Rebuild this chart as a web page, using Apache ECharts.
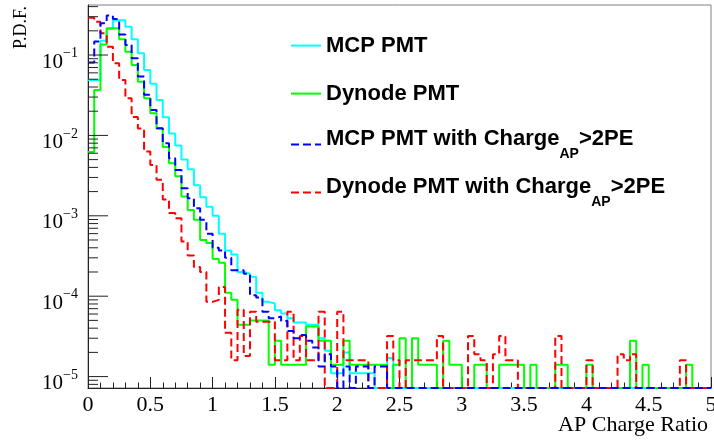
<!DOCTYPE html>
<html>
<head>
<meta charset="utf-8">
<script src="https://cdn.jsdelivr.net/npm/echarts@6/dist/echarts.min.js"></script>
<style>
  html, body { margin: 0; padding: 0; background: #ffffff; }
  #chart { width: 714px; height: 441px; }
</style>
</head>
<body>
<div id="chart"></div>
<script>
// Histograms of the afterpulse charge ratio, 100 bins of width 0.05 from 0 to 5.
const binWidth = 0.05;

// MCP PMT
const mcp = [
  0.049, 0.049, 0.15, 0.21, 0.27, 0.27, 0.225, 0.157, 0.105, 0.065,
  0.044, 0.0276, 0.0168, 0.0106, 0.0075, 0.0050, 0.0038, 0.0024, 0.0017, 0.0013,
  0.0010, 0.0006, 0.00037, 0.00033, 0.00020, 0.00019, 0.000174, 0.00011, 0.000085, 0.000081,
  0.000067, 0.000061, 0.000053, 0.000047, 0.000047, 0.000044, 0.000044, 0.000030, 0.000021, 0.000011,
  0.000011, 0.000020, 0.000011, 0.000011, 0.000011, 0.000011, 0, 0, 0.000017, 0,
  0, 0, 0, 0, 0, 0, 0, 0, 0, 0,
  0, 0, 0, 0, 0, 0, 0, 0, 0, 0,
  0, 0, 0, 0, 0, 0, 0, 0, 0, 0,
  0, 0, 0, 0, 0, 0, 0, 0, 0, 0,
  0, 0, 0, 0, 0, 0, 0, 0, 0, 0
];

// Dynode PMT
const dynode = [
  0.0062, 0.0367, 0.135, 0.215, 0.215, 0.157, 0.110, 0.075, 0.0466, 0.0289,
  0.0188, 0.0122, 0.0072, 0.0045, 0.0031, 0.00174, 0.00118, 0.00089, 0.00050, 0.00046,
  0.00029, 0.00026, 0.00011, 0.00009, 0.000044, 0.000044, 0.000050, 0.000050, 0.000050, 0.000014,
  0.000028, 0.000014, 0.000014, 0.000014, 0.000014, 0.000042, 0.000042, 0.000028, 0.000028, 0.000014,
  0.000014, 0.000028, 0.000014, 0.000014, 0.000014, 0.000014, 0.000014, 0.000014, 0, 0.000014,
  0.000030, 0, 0.000030, 0.000014, 0.000014, 0.000014, 0, 0.000028, 0.000014, 0.000014,
  0, 0, 0.000014, 0.000014, 0, 0, 0.000014, 0.000014, 0.000014, 0.000014,
  0, 0.000014, 0, 0, 0, 0.000014, 0.000014, 0, 0, 0,
  0.000014, 0, 0, 0, 0, 0, 0, 0.000028, 0, 0.000014,
  0, 0, 0, 0, 0, 0, 0.000014, 0, 0, 0
];

// MCP PMT, afterpulses with charge above 2 PE
const mcpAP = [
  0.081, 0.147, 0.248, 0.31, 0.28, 0.18, 0.133, 0.091, 0.054, 0.032,
  0.0207, 0.0123, 0.0080, 0.0052, 0.0037, 0.0022, 0.00165, 0.00124, 0.00089, 0.00060,
  0.00040, 0.00037, 0.00030, 0.00021, 0.00021, 0.00019, 0.000103, 0.000096, 0.000064, 0.000053,
  0.000056, 0.000049, 0.000037, 0.000030, 0.000033, 0.000028, 0.000023, 0.0000133, 0.000019, 0.0000133,
  0, 0.0000133, 0, 0.0000133, 0.0000133, 0, 0.0000133, 0.0000133, 0, 0,
  0, 0, 0, 0, 0, 0, 0, 0, 0, 0,
  0, 0, 0, 0, 0, 0, 0, 0, 0, 0,
  0, 0, 0, 0, 0, 0, 0, 0, 0, 0,
  0, 0, 0, 0, 0, 0, 0, 0, 0, 0,
  0, 0, 0, 0, 0, 0, 0, 0, 0, 0
];

// Dynode PMT, afterpulses with charge above 2 PE
const dynodeAP = [
  0.29, 0.26, 0.186, 0.127, 0.079, 0.049, 0.029, 0.017, 0.0122, 0.0063,
  0.0043, 0.0028, 0.0016, 0.00108, 0.00093, 0.00048, 0.00032, 0.00023, 0.00020, 0.000085,
  0.000090, 0.00013, 0.000035, 0.000016, 0.000068, 0.000018, 0.000064, 0.000048, 0.000048, 0.000048,
  0.000016, 0.000016, 0.000064, 0.000016, 0.000032, 0.000016, 0.000016, 0.000064, 0, 0,
  0.000064, 0.000016, 0.000016, 0.000016, 0.000016, 0, 0, 0, 0.000032, 0.000016,
  0, 0.000016, 0.000016, 0.000016, 0.000016, 0.000016, 0.000032, 0, 0, 0,
  0, 0.000032, 0.000019, 0.000016, 0, 0.000019, 0.000032, 0.000016, 0.000016, 0,
  0, 0, 0, 0, 0, 0.000032, 0, 0, 0, 0,
  0.000016, 0, 0, 0, 0, 0.000019, 0.000016, 0.000019, 0, 0,
  0, 0, 0, 0, 0, 0.000016, 0, 0, 0, 0
];

// Axis ranges and ticks
const xMin = 0, xMax = 5, xInterval = 0.5;
const yMin = 7.21e-6, yMax = 0.419;
const yMajorExps = [-5, -4, -3, -2, -1];
const yMinorMantissas = [2, 3, 4, 5, 6, 7, 8, 9];

const seriesNames = [
  'MCP PMT',
  'Dynode PMT',
  'MCP PMT with ChargeAP>2PE',
  'Dynode PMT with ChargeAP>2PE'
];

// Histogram outline: one point per bin low edge plus the upper edge of the last bin.
// Empty bins sit on the bottom of the log frame.
function stepData(vals) {
  const pts = vals.map((v, i) => [i * binWidth, v > 0 ? v : yMin]);
  pts.push([vals.length * binWidth, pts[pts.length - 1][1]]);
  return pts;
}

// Tick marks for the log axis: long ones at decades, short ones at 2..9 x decade.
const yTickMarks = [];
for (let e = Math.min(...yMajorExps) - 1; e <= Math.max(...yMajorExps); e++) {
  if (yMajorExps.includes(e)) yTickMarks.push([0, Math.pow(10, e), 20]);
  yMinorMantissas.forEach(m => {
    const v = m * Math.pow(10, e);
    if (v > yMin && v < yMax) yTickMarks.push([0, v, 10]);
  });
}

const serif = '"Liberation Serif", "Times New Roman", serif';
const sans = '"Liberation Sans", Arial, Helvetica, sans-serif';
const axisColor = '#222';

function histSeries(name, vals, color, dashed) {
  return {
    name: name,
    type: 'line',
    step: 'end',
    data: stepData(vals),
    symbol: 'none',
    showSymbol: false,
    clip: true,
    lineStyle: { color: color, width: 2, type: dashed ? [8, 4] : 'solid' },
    itemStyle: { color: color },
    emphasis: { disabled: true }
  };
}

// Rich-text pieces: every token of a line gets the same box height, so the
// glyph positions are set by padding alone (subscript sits lower).
const legendRich = {
  m: { fontFamily: sans, fontWeight: 'bold', fontSize: 22, lineHeight: 22, color: '#000', padding: [0, 0, 11, 0] },
  s: { fontFamily: sans, fontWeight: 'bold', fontSize: 14, lineHeight: 14, color: '#000', padding: [19, 0, 0, 0] },
  p: { fontFamily: sans, fontWeight: 'bold', fontSize: 22, lineHeight: 22, color: '#000' }
};

function legendLabel(name) {
  if (name.indexOf('ChargeAP') >= 0) {
    const parts = name.split('ChargeAP');
    return '{m|' + parts[0] + 'Charge}{s|AP}{m|' + parts[1] + '}';
  }
  return '{p|' + name + '}';
}

function legendRow(name, centerY) {
  return {
    data: [name],
    orient: 'vertical',
    left: 290,
    top: centerY - 17,
    padding: 0,
    itemWidth: 30,
    itemHeight: 34,
    selectedMode: false,
    formatter: legendLabel,
    itemStyle: { color: 'rgba(0,0,0,0)', borderWidth: 0, opacity: 0 },
    textStyle: { rich: legendRich, color: '#000' }
  };
}

const chart = echarts.init(document.getElementById('chart'), null, { renderer: 'canvas' });

chart.setOption({
  animation: false,
  backgroundColor: '#ffffff',
  grid: {
    left: 88, right: 3, top: 5, bottom: 53,
    containLabel: false,
    outerBoundsMode: 'none',
    show: true,
    borderColor: '#808080',
    borderWidth: 1,
    backgroundColor: 'transparent'
  },
  xAxis: {
    type: 'value',
    min: xMin, max: xMax, interval: xInterval,
    name: 'AP Charge Ratio',
    nameLocation: 'end',
    nameGap: -3,
    nameMoveOverlap: false,
    nameTextStyle: {
      fontFamily: serif, fontSize: 22, color: '#000',
      align: 'right', verticalAlign: 'top', padding: [26, 0, 0, 0]
    },
    axisLine: { show: true, onZero: false, lineStyle: { color: axisColor, width: 1 } },
    axisTick: { show: true, inside: true, length: 11, lineStyle: { color: axisColor, width: 1 } },
    minorTick: { show: true, splitNumber: 5, length: 5.5, lineStyle: { color: axisColor, width: 1 } },
    splitLine: { show: false },
    minorSplitLine: { show: false },
    axisLabel: {
      show: true, margin: 6, fontFamily: serif, fontSize: 22, color: '#000',
      hideOverlap: false,
      showMinLabel: true, showMaxLabel: true,
      formatter: v => String(Math.round(v * 10) / 10)
    }
  },
  yAxis: {
    type: 'log',
    logBase: 10,
    min: yMin, max: yMax,
    nameMoveOverlap: false,
    axisLine: { show: true, onZero: false, lineStyle: { color: axisColor, width: 1 } },
    axisTick: { show: false },
    splitLine: { show: false },
    axisLabel: {
      show: true, margin: 10, hideOverlap: false,
      formatter: function (v) {
        const e = Math.log10(v);
        const r = Math.round(e);
        if (Math.abs(e - r) > 1e-6 || !yMajorExps.includes(r)) return '';
        return '{b|10}{s|' + (r < 0 ? '\u2212' + (-r) : r) + '}';
      },
      rich: {
        b: { fontFamily: serif, fontSize: 21, lineHeight: 21, color: '#000', padding: [14, 0, 0, 0] },
        s: { fontFamily: serif, fontSize: 14, lineHeight: 14, color: '#000', padding: [9, 0, 12, 0] }
      }
    }
  },
  legend: [
    legendRow(seriesNames[0], 49),
    legendRow(seriesNames[1], 97),
    legendRow(seriesNames[2], 145),
    legendRow(seriesNames[3], 193)
  ],
  graphic: [{
    type: 'text',
    x: 21, y: 6,
    rotation: Math.PI / 2,
    silent: true,
    style: {
      text: 'P.D.F.',
      font: '18px ' + serif,
      fill: '#000',
      align: 'right', verticalAlign: 'middle',
      textAlign: 'right', textVerticalAlign: 'middle'
    }
  }],
  series: [
    histSeries(seriesNames[0], mcp, '#00ffff', false),
    histSeries(seriesNames[1], dynode, '#00ff00', false),
    histSeries(seriesNames[3], dynodeAP, '#ff0000', true),
    histSeries(seriesNames[2], mcpAP, '#0000ff', true),
    {
      type: 'custom',
      coordinateSystem: 'cartesian2d',
      silent: true,
      clip: false,
      z: 5,
      encode: { x: 0, y: 1 },
      data: yTickMarks,
      renderItem: function (params, api) {
        const p = api.coord([api.value(0), api.value(1)]);
        const len = api.value(2);
        return {
          type: 'line',
          shape: { x1: p[0], y1: p[1], x2: p[0] + len, y2: p[1] },
          style: { stroke: axisColor, lineWidth: 1 }
        };
      }
    }
  ]
});
</script>
</body>
</html>
